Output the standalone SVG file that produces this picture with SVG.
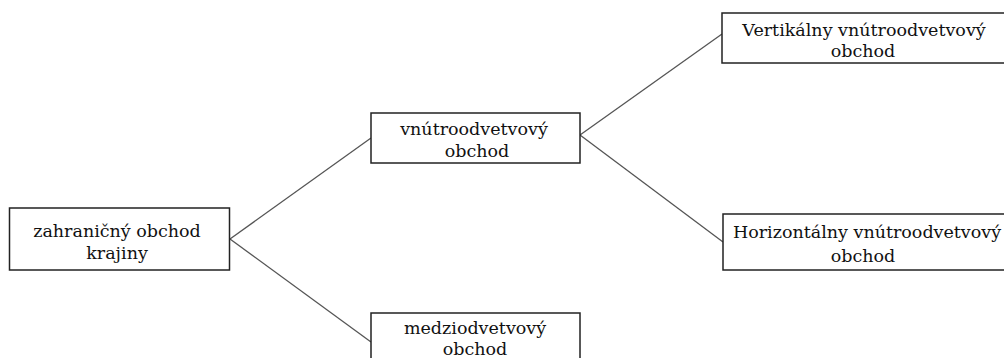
<svg xmlns="http://www.w3.org/2000/svg" width="1004" height="358" viewBox="0 0 1004 358">
<style>
.box{fill:#fff;stroke:#222;stroke-width:1.5}
.t{font-family:'DejaVu Serif',serif;font-size:17.5px;fill:#111;text-anchor:middle}
.c{stroke:#555;stroke-width:1.3;fill:none}
</style>
<rect width="1004" height="358" fill="#fff"/>
<g id="connectors">
<line class="c" x1="230" y1="239" x2="371" y2="138"/>
<line class="c" x1="230" y1="239" x2="371" y2="342"/>
<line class="c" x1="580" y1="135" x2="722" y2="34"/>
<line class="c" x1="580" y1="135" x2="723" y2="242"/>
</g>
<g id="n1">
<rect class="box" x="9.5" y="208" width="220" height="62"/>
<text class="t" x="117" y="237">zahraničný obchod</text>
<text class="t" x="117" y="259">krajiny</text>
</g>
<g id="n2">
<rect class="box" x="371" y="113" width="209" height="50"/>
<text class="t" x="474" y="135">vnútroodvetvový</text>
<text class="t" x="477" y="157">obchod</text>
</g>
<g id="n3">
<rect class="box" x="371" y="313" width="209" height="60"/>
<text class="t" x="475" y="334">medziodvetvový</text>
<text class="t" x="475" y="355">obchod</text>
</g>
<g id="n4">
<rect class="box" x="722" y="13" width="300" height="50"/>
<text class="t" x="864" y="36">Vertikálny vnútroodvetvový</text>
<text class="t" x="863" y="57">obchod</text>
</g>
<g id="n5">
<rect class="box" x="723" y="214" width="300" height="56"/>
<text class="t" x="867" y="238">Horizontálny vnútroodvetvový</text>
<text class="t" x="863" y="262">obchod</text>
</g>
</svg>
